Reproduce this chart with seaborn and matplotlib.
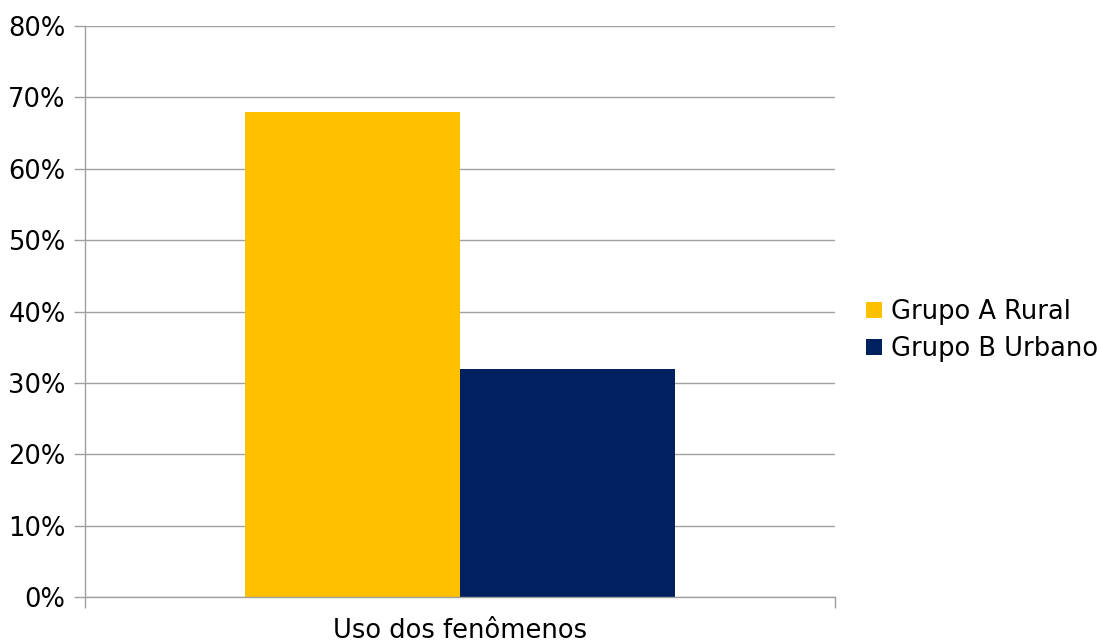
import matplotlib
matplotlib.use("Agg")
import matplotlib.pyplot as plt
import matplotlib.ticker as mticker
import seaborn as sns
import pandas as pd

categories = ["Uso dos fenômenos"]
groups = ["Grupo A Rural", "Grupo B Urbano"]
values = [68, 32]
colors = ["#FFC000", "#002060"]
y_ticks = [0, 10, 20, 30, 40, 50, 60, 70, 80]

df = pd.DataFrame({
    "categoria": categories * len(groups),
    "grupo": groups,
    "valor": values,
})

sns.set_theme(style="white")
plt.rcParams["font.family"] = ["DejaVu Sans"]
plt.rcParams["text.color"] = "black"

grid_color = "#A0A0A0"
font_size = 18.5
fig = plt.figure(figsize=(10.99, 6.41), dpi=100)
ax = fig.add_axes([0.0773, 0.0686, 0.6825, 0.8908])

sns.barplot(data=df, x="categoria", y="valor", hue="grupo",
            palette=colors, width=0.5733, saturation=1,
            linewidth=0, ax=ax)

ax.set_xlim(-0.5, 0.5)
ax.set_ylim(0, 80)
ax.set_yticks(y_ticks)
ax.yaxis.set_major_formatter(mticker.FuncFormatter(lambda v, p: f"{v:.0f}%"))
ax.set_axisbelow(True)
ax.yaxis.grid(True, color=grid_color, linewidth=1)
ax.set_xlabel("")
ax.set_ylabel("")

for side in ["top", "right"]:
    ax.spines[side].set_visible(False)
for side in ["left", "bottom"]:
    ax.spines[side].set_color(grid_color)
    ax.spines[side].set_linewidth(1)

ax.tick_params(axis="y", which="major", left=True, length=8, color=grid_color,
               width=1, labelsize=font_size, pad=6, labelcolor="black")
ax.tick_params(axis="x", which="major", bottom=False, labelsize=font_size,
               pad=9, labelcolor="black")
ax.set_xticks([-0.5, 0.5], minor=True)
ax.tick_params(axis="x", which="minor", bottom=True, length=8,
               color=grid_color, width=1)

leg = ax.legend(title=None, loc="center left", bbox_to_anchor=(1.028, 0.4665),
                frameon=False, fontsize=font_size, handlelength=0.6,
                handleheight=0.6, handletextpad=0.35, labelspacing=0.42,
                borderaxespad=0)
for t in leg.get_texts():
    t.set_color("black")

fig.savefig("out.png", dpi=100, facecolor="white")
